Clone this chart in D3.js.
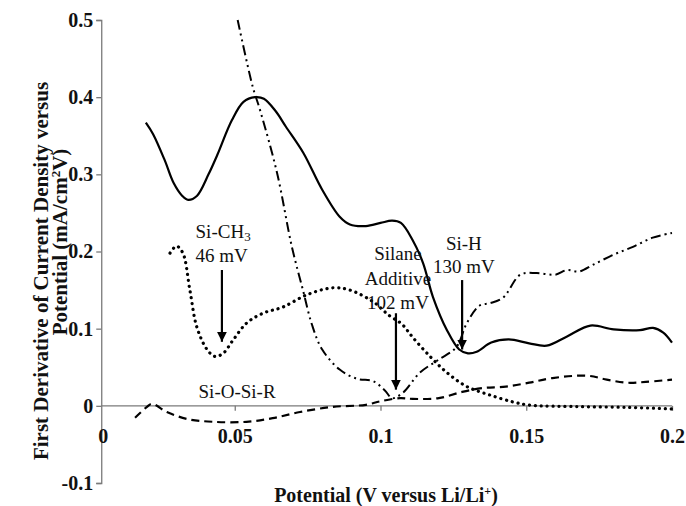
<!DOCTYPE html>
<html>
<head>
<meta charset="utf-8">
<script src="https://cdn.jsdelivr.net/npm/d3@7"></script>
<style>
  html, body { margin: 0; padding: 0; background: #fff; }
  svg { display: block; font-family: "Liberation Serif", "Times New Roman", serif; }
</style>
</head>
<body>
<div id="chart"></div>
<script>
// potential (V vs Li/Li+), first derivative (mA/cm2V)
const solidCurve = [
  [0.0195, 0.367], [0.022, 0.352], [0.026, 0.318], [0.029, 0.289], [0.032, 0.272],
  [0.034, 0.267], [0.037, 0.272], [0.041, 0.300], [0.044, 0.325], [0.049, 0.370],
  [0.053, 0.394], [0.057, 0.400], [0.060, 0.398], [0.064, 0.382], [0.0675, 0.362],
  [0.0735, 0.328], [0.080, 0.280], [0.086, 0.245], [0.0895, 0.235], [0.095, 0.233],
  [0.100, 0.237], [0.104, 0.240], [0.107, 0.237], [0.111, 0.215], [0.1146, 0.185],
  [0.118, 0.141], [0.1228, 0.098], [0.127, 0.073], [0.130, 0.068], [0.133, 0.070],
  [0.138, 0.082], [0.144, 0.086], [0.151, 0.081], [0.157, 0.078], [0.164, 0.090],
  [0.172, 0.104], [0.180, 0.099], [0.189, 0.098], [0.1935, 0.101], [0.197, 0.095],
  [0.200, 0.082]
];

const dashDotCurve = [
  [0.051, 0.500], [0.0562, 0.413], [0.0587, 0.383], [0.0645, 0.302], [0.0696, 0.206],
  [0.0734, 0.150], [0.0765, 0.105], [0.080, 0.073], [0.086, 0.047], [0.092, 0.035],
  [0.0975, 0.032], [0.1015, 0.020], [0.104, 0.010], [0.1077, 0.017], [0.1135, 0.043],
  [0.120, 0.060], [0.126, 0.076], [0.1296, 0.107], [0.134, 0.130], [0.1375, 0.133],
  [0.142, 0.140], [0.148, 0.170], [0.1536, 0.172], [0.160, 0.170], [0.164, 0.176],
  [0.168, 0.174], [0.173, 0.183], [0.180, 0.196], [0.1866, 0.206], [0.1934, 0.218],
  [0.200, 0.224]
];

const dottedCurve = [
  [0.0278, 0.198], [0.030, 0.207], [0.0322, 0.198], [0.0346, 0.150], [0.037, 0.102],
  [0.0405, 0.073], [0.0432, 0.064], [0.046, 0.068], [0.0494, 0.085], [0.054, 0.107],
  [0.0597, 0.120], [0.0665, 0.128], [0.0748, 0.144], [0.0837, 0.153], [0.0895, 0.150],
  [0.0974, 0.135], [0.103, 0.117], [0.1073, 0.106], [0.111, 0.089], [0.117, 0.064],
  [0.1228, 0.043], [0.1296, 0.025], [0.1375, 0.014], [0.1455, 0.005], [0.151, 0.001],
  [0.168, -0.001], [0.185, -0.002], [0.200, -0.004]
];

const dashedCurve = [
  [0.0158, -0.0155], [0.0199, -0.0013], [0.0216, 0.0026], [0.0267, -0.008], [0.0336, -0.017],
  [0.0425, -0.0207], [0.054, -0.0207], [0.063, -0.016], [0.0724, -0.008], [0.0837, -0.0013],
  [0.095, 0.0013], [0.100, 0.006], [0.1067, 0.010], [0.111, 0.009], [0.120, 0.010],
  [0.128, 0.018], [0.135, 0.023], [0.143, 0.025], [0.151, 0.030], [0.159, 0.036],
  [0.171, 0.039], [0.1776, 0.034], [0.1845, 0.030], [0.191, 0.031], [0.200, 0.034]
];

const xTicks = [0.05, 0.1, 0.15, 0.2];
const xTickLabels = ["0.05", "0.1", "0.15", "0.2"];
const yTicks = [-0.1, 0, 0.1, 0.2, 0.3, 0.4, 0.5];
const yTickLabels = ["-0.1", "0", "0.1", "0.2", "0.3", "0.4", "0.5"];

// arrows: x, from y, to y
const arrows = [
  [0.0456, 0.176, 0.083],
  [0.1053, 0.120, 0.021],
  [0.128, 0.163, 0.073]
];

var width = 686, height = 506;
var serif = "'Liberation Serif', 'Times New Roman', serif";

var x = d3.scaleLinear().domain([0, 0.2]).range([89, 672]);
var y = d3.scaleLinear().domain([-0.1, 0.5]).range([483, 20]);
var yAxisAt = 0.0042;

var svg = d3.select("#chart").append("svg")
    .attr("width", width)
    .attr("height", height);

svg.append("defs").append("marker")
    .attr("id", "head")
    .attr("viewBox", "0 0 10 10")
    .attr("refX", 10).attr("refY", 5)
    .attr("markerUnits", "userSpaceOnUse")
    .attr("markerWidth", 10).attr("markerHeight", 14)
    .attr("orient", "auto")
  .append("path")
    .attr("d", "M0,0 L10,5 L0,10 Z")
    .attr("fill", "#000");

var axisColor = "#7a7a7a";

// y axis
var yAxis = svg.append("g")
    .attr("transform", "translate(" + x(yAxisAt) + ",0)")
    .call(d3.axisLeft(y).tickValues(yTicks).tickSize(5)
      .tickFormat((d, i) => yTickLabels[i]));
yAxis.attr("font-family", serif);
yAxis.select(".domain").attr("stroke", axisColor).attr("stroke-width", 1.3);
yAxis.selectAll(".tick line").attr("stroke", axisColor).attr("stroke-width", 1.3);
yAxis.selectAll(".tick text")
    .attr("x", -8)
    .attr("fill", "#111")
    .style("font-family", serif)
    .style("font-size", "20px")
    .style("font-weight", "bold");

// x axis at zero
var xAxis = svg.append("g")
    .attr("transform", "translate(0," + y(0) + ")")
    .call(d3.axisBottom(x).tickValues(xTicks).tickSize(5).tickSizeOuter(0)
      .tickFormat((d, i) => xTickLabels[i]));
xAxis.attr("font-family", serif);
xAxis.select(".domain")
    .attr("d", "M" + x(yAxisAt) + ",0H" + x(0.2))
    .attr("stroke", axisColor).attr("stroke-width", 1.3);
xAxis.selectAll(".tick line").attr("stroke", axisColor).attr("stroke-width", 1.3);
xAxis.selectAll(".tick text")
    .attr("y", 0).attr("dy", 0)
    .attr("transform", "translate(0,37)")
    .attr("fill", "#111")
    .style("font-family", serif)
    .style("font-size", "20px")
    .style("font-weight", "bold");

// "0" under the y axis
svg.append("text")
    .attr("x", x(yAxisAt) + 2)
    .attr("y", y(0) + 37)
    .attr("text-anchor", "middle")
    .attr("fill", "#111")
    .style("font-size", "20px")
    .style("font-weight", "bold")
    .text("0");

// curves
var line = d3.line()
    .x(d => x(d[0]))
    .y(d => y(d[1]))
    .curve(d3.curveCatmullRom.alpha(0.5));

svg.append("path").datum(solidCurve)
    .attr("d", line).attr("fill", "none")
    .attr("stroke", "#000").attr("stroke-width", 2.2);

svg.append("path").datum(dashDotCurve)
    .attr("d", line).attr("fill", "none")
    .attr("stroke", "#000").attr("stroke-width", 2)
    .attr("stroke-dasharray", "10,4,2,4,2,4");

svg.append("path").datum(dottedCurve)
    .attr("d", line).attr("fill", "none")
    .attr("stroke", "#000").attr("stroke-width", 3.2)
    .attr("stroke-linecap", "round")
    .attr("stroke-dasharray", "0.1,5.8");

svg.append("path").datum(dashedCurve)
    .attr("d", line).attr("fill", "none")
    .attr("stroke", "#000").attr("stroke-width", 2.2)
    .attr("stroke-dasharray", "8,5");

// arrows
svg.selectAll(".arrow").data(arrows).enter().append("line")
    .attr("class", "arrow")
    .attr("x1", d => x(d[0])).attr("y1", d => y(d[1]))
    .attr("x2", d => x(d[0])).attr("y2", d => y(d[2]))
    .attr("stroke", "#000").attr("stroke-width", 2.2)
    .attr("marker-end", "url(#head)");

// annotations
function label(px, py, parts) {
  var t = svg.append("text")
      .attr("x", x(px)).attr("y", y(py))
      .attr("text-anchor", "middle")
      .attr("fill", "#111")
      .style("font-size", "19px");
  parts.forEach(function (p) {
    var s = t.append("tspan").text(p[0]);
    if (p[1] === "sub") s.attr("baseline-shift", "-25%").style("font-size", "13px");
  });
}
label(0.046, 0.218, [["Si-CH"], ["3", "sub"]]);
label(0.0455, 0.187, [["46 mV"]]);
label(0.1286, 0.202, [["Si-H"]]);
label(0.1286, 0.172, [["130 mV"]]);
label(0.1060, 0.189, [["Silane"]]);
label(0.1060, 0.157, [["Additive"]]);
label(0.1060, 0.126, [["102 mV"]]);
label(0.0508, 0.010, [["Si-O-Si-R"]]);

// axis titles
var xt = svg.append("text")
    .attr("x", 386).attr("y", 502)
    .attr("text-anchor", "middle")
    .attr("fill", "#111")
    .style("font-size", "20px")
    .style("font-weight", "bold");
xt.append("tspan").text("Potential (V versus Li/Li");
xt.append("tspan").attr("baseline-shift", "super").style("font-size", "12px").text("+");
xt.append("tspan").text(")");

svg.append("text")
    .attr("transform", "translate(48,271) rotate(-90)")
    .attr("text-anchor", "middle")
    .attr("fill", "#111")
    .style("font-size", "21px")
    .style("font-weight", "bold")
    .text("First Derivative of Current Density versus");

var yt2 = svg.append("text")
    .attr("transform", "translate(67,242) rotate(-90)")
    .attr("text-anchor", "middle")
    .attr("fill", "#111")
    .style("font-size", "21px")
    .style("font-weight", "bold");
yt2.append("tspan").text("Potential  (mA/cm");
yt2.append("tspan").attr("baseline-shift", "super").style("font-size", "13px").text("2");
yt2.append("tspan").text("V)");
</script>
</body>
</html>
